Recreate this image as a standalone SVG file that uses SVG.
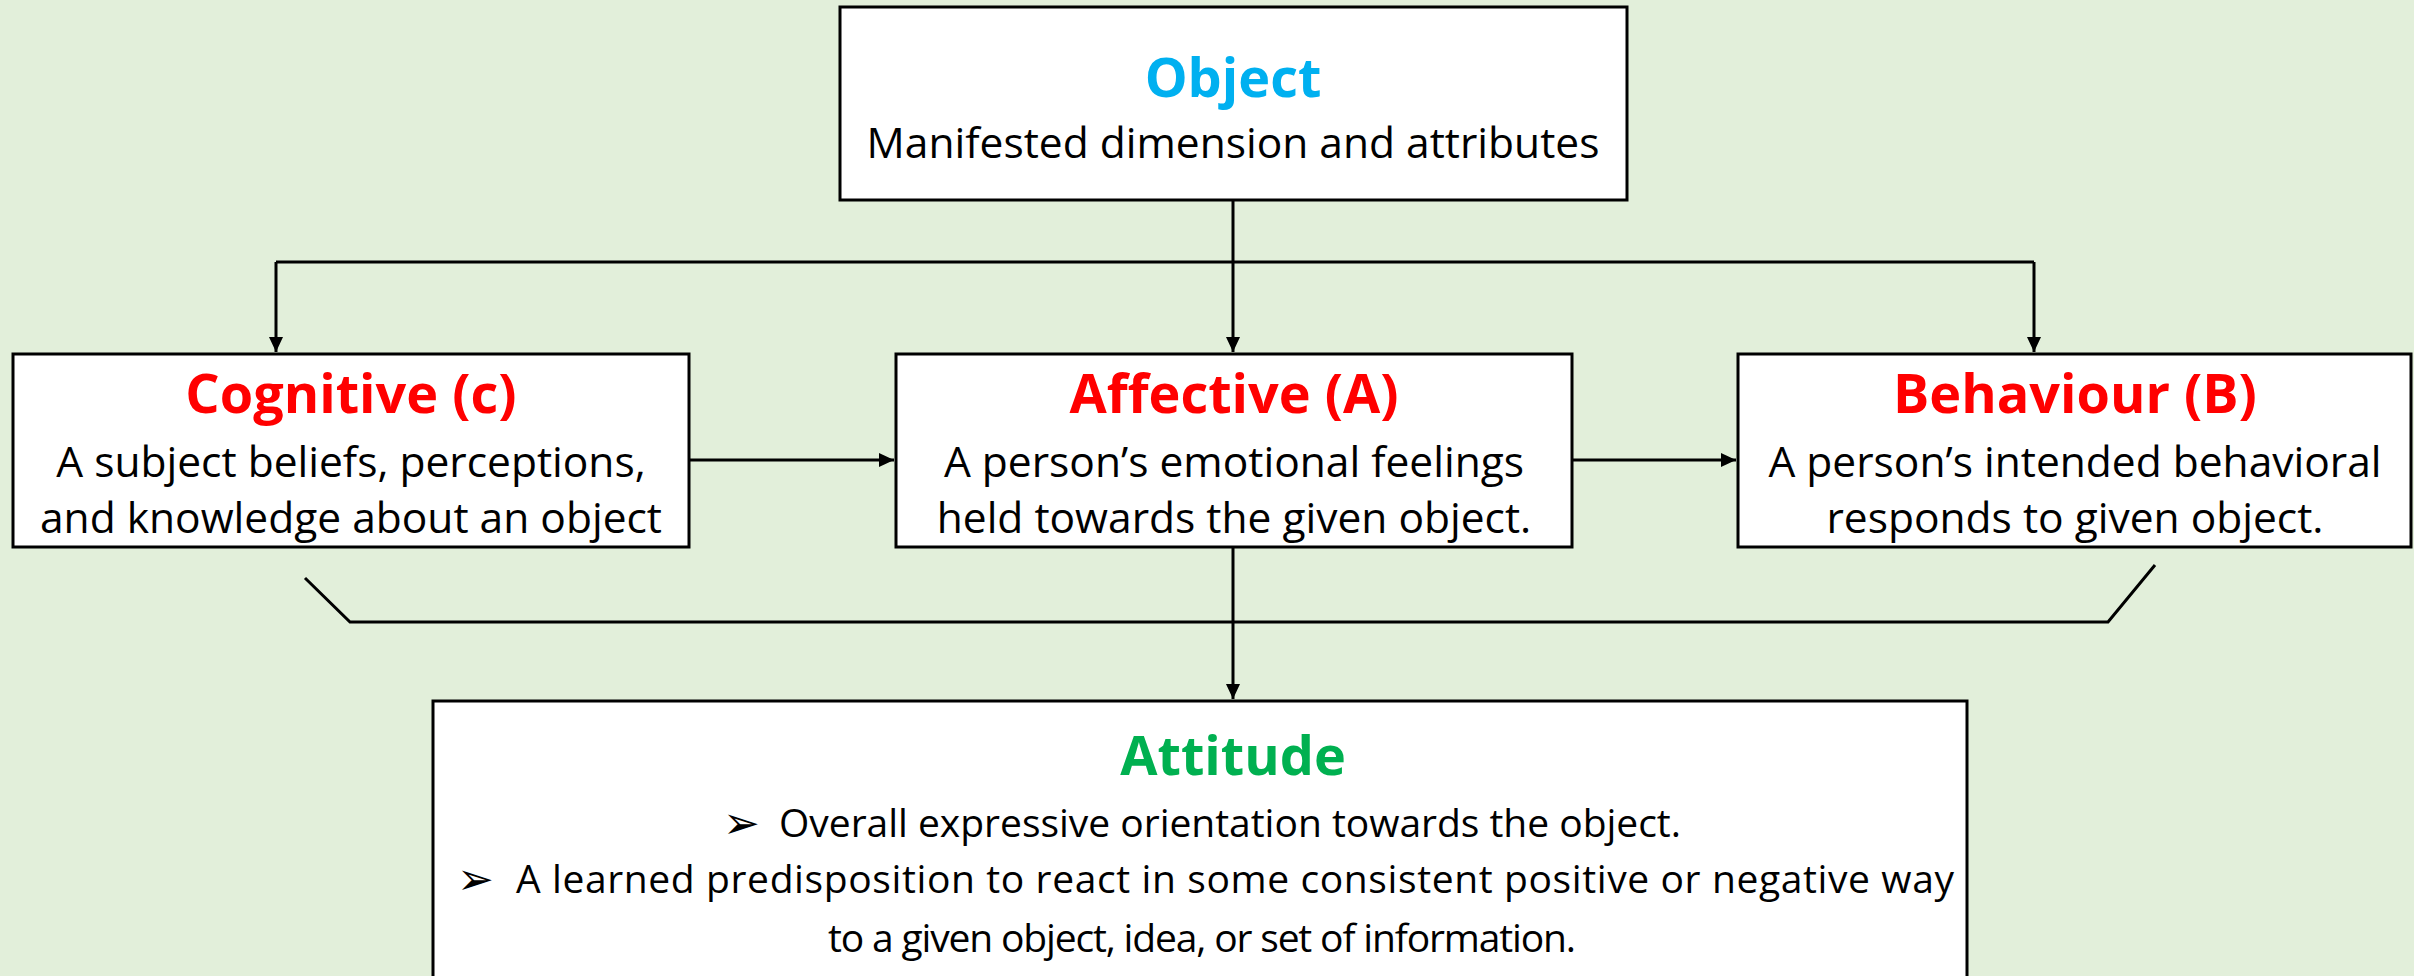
<svg xmlns="http://www.w3.org/2000/svg" width="2414" height="976" viewBox="0 0 2414 976">
<defs>
<style>
.box{fill:#fff;stroke:#000;stroke-width:3}
.t{font-family:"Open Sans","Liberation Sans",sans-serif;font-weight:bold;font-size:54px;text-anchor:middle}
.b{font-family:"Open Sans","Liberation Sans",sans-serif;font-size:42.5px;fill:#000;text-anchor:middle}
.a{font-family:"Open Sans","Liberation Sans",sans-serif;font-size:39px;fill:#000}
.bl{font-family:"DejaVu Sans",sans-serif;font-size:44px;fill:#000}
.red{fill:#FF0000}
.con{fill:none;stroke:#000;stroke-width:3}
</style>
<marker id="ah" markerUnits="userSpaceOnUse" markerWidth="16" markerHeight="14" refX="15" refY="7" orient="auto">
<path d="M0,0 L15,7 L0,14 Z" fill="#000"/>
</marker>
</defs>
<rect width="2414" height="976" fill="#E2EFDA"/>
<g id="connectors">
<line class="con" x1="1233" y1="200" x2="1233" y2="352" marker-end="url(#ah)"/>
<polyline class="con" points="276,262 2034,262"/>
<line class="con" x1="276" y1="262" x2="276" y2="352" marker-end="url(#ah)"/>
<line class="con" x1="2034" y1="262" x2="2034" y2="352" marker-end="url(#ah)"/>
<line class="con" x1="689" y1="460" x2="894" y2="460" marker-end="url(#ah)"/>
<line class="con" x1="1572" y1="460" x2="1736" y2="460" marker-end="url(#ah)"/>
<line class="con" x1="1233" y1="547" x2="1233" y2="699" marker-end="url(#ah)"/>
<polyline class="con" points="305,578 350,622 2108,622 2155,565"/>
</g>
<g id="object">
<rect class="box" x="840" y="7" width="787" height="193"/>
<text class="t" x="1233" y="97" fill="#00B0F0">Object</text>
<text class="b" x="1233" y="158">Manifested dimension and attributes</text>
</g>
<g id="cognitive">
<rect class="box" x="13" y="354" width="676" height="193"/>
<text class="t red" x="351" y="413">Cognitive (c)</text>
<text class="b" x="351" y="477">A subject beliefs, perceptions,</text>
<text class="b" x="351" y="533">and knowledge about an object</text>
</g>
<g id="affective">
<rect class="box" x="896" y="354" width="676" height="193"/>
<text class="t red" x="1234" y="413">Affective (A)</text>
<text class="b" x="1234" y="477">A person’s emotional feelings</text>
<text class="b" x="1234" y="533">held towards the given object.</text>
</g>
<g id="behaviour">
<rect class="box" x="1738" y="354" width="673" height="193"/>
<text class="t red" x="2075" y="413">Behaviour (B)</text>
<text class="b" x="2075" y="477">A person’s intended behavioral</text>
<text class="b" x="2075" y="533">responds to given object.</text>
</g>
<g id="attitude">
<rect class="box" x="433" y="701" width="1534" height="290"/>
<text class="t" x="1233" y="775" fill="#00B050">Attitude</text>
<text class="bl" x="723" y="838">➢</text>
<text class="a" x="779" y="837" textLength="902">Overall expressive orientation towards the object.</text>
<text class="bl" x="457" y="894">➢</text>
<text class="a" x="516" y="893" textLength="1438">A learned predisposition to react in some consistent positive or negative way</text>
<text class="a" x="828" y="952" textLength="748">to a given object, idea, or set of information.</text>
</g>
</svg>
